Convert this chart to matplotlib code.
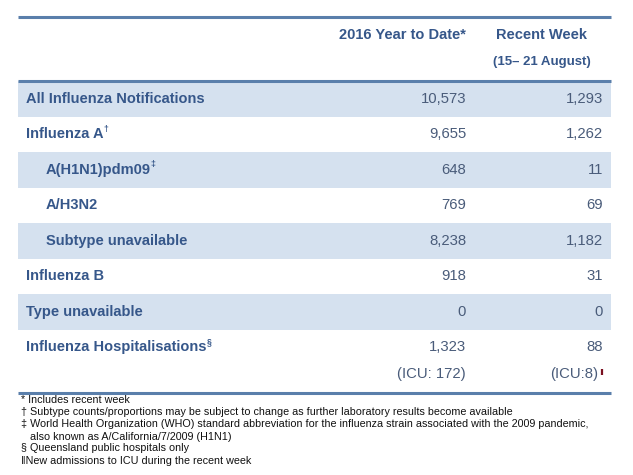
import matplotlib
matplotlib.use("Agg")
import matplotlib.pyplot as plt
from matplotlib.patches import Rectangle

plt.rcParams['font.family'] = ['Liberation Sans', 'DejaVu Sans']

# ---- data ----
col_headers = ["2016 Year to Date*", "Recent Week"]
col_subheader = "(15\u2013 21 August)"
row_labels = ["All Influenza Notifications", "Influenza A", "A(H1N1)pdm09", "A/H3N2",
              "Subtype unavailable", "Influenza B", "Type unavailable",
              "Influenza Hospitalisations"]
row_marks = ["", "\u2020", "\u2021", "", "", "", "", "\u00a7"]
row_indent = [False, False, True, True, True, False, False, False]
row_band = [True, False, True, False, True, False, True, False]
ytd_values = ["10,573", "9,655", "648", "769", "8,238", "918", "0", "1,323"]
recent_values = ["1,293", "1,262", "11", "69", "1,182", "31", "0", "88"]
icu_ytd = "(ICU: 172)"
icu_recent = "(ICU:8)"
footnotes = ["* Includes recent week",
             "\u2020 Subtype counts/proportions may be subject to change as further laboratory results become available",
             "\u2021 World Health Organization (WHO) standard abbreviation for the influenza strain associated with the 2009 pandemic,",
             "   also known as A/California/7/2009 (H1N1)",
             "\u00a7 Queensland public hospitals only",
             "\u2016New admissions to ICU during the recent week"]

W, H = 633, 475
fig = plt.figure(figsize=(W / 100, H / 100), dpi=100)
ax = fig.add_axes([0, 0, 1, 1])
ax.set_xlim(0, W)
ax.set_ylim(H, 0)
ax.axis('off')

label_c = '#36578a'
num_c = '#4a5c7a'
band_c = '#d5e1ef'
line_c = '#5a7fab'

x0, x1 = 18, 611
col1_r, col2_r = 466, 603
lab_x, ind_x = 25.5, 45.5
row_top0, row_h = 81, 35.5
fs = 10.5
fs_num = 10.7

# lines
for yl in (17, 81, 393):
    ax.plot([x0, x1], [yl, yl], color=line_c, lw=2.2, solid_capstyle='butt')

# headers
ax.text(col1_r, 35, col_headers[0], ha='right', va='center', fontsize=fs, fontweight='bold', color=label_c)
ax.text(541.7, 35, col_headers[1], ha='center', va='center', fontsize=fs, fontweight='bold', color=label_c)
ax.text(541.7, 62, col_subheader, ha='center', va='center', fontsize=9.5, fontweight='bold', color=label_c)

fig.canvas.draw()
renderer = fig.canvas.get_renderer()

for i, lab in enumerate(row_labels):
    top = row_top0 + i * row_h
    if row_band[i]:
        ax.add_patch(Rectangle((x0, top), x1 - x0, row_h, facecolor=band_c, edgecolor='none', zorder=0))
    yc = top + row_h / 2
    if i == len(row_labels) - 1:
        yc = 347
    t = ax.text(ind_x if row_indent[i] else lab_x, yc, lab, ha='left', va='center',
                fontsize=fs, fontweight='bold', color=label_c)
    if row_marks[i]:
        bb = t.get_window_extent(renderer).transformed(ax.transData.inverted())
        ax.text(bb.x1 + 0.3, yc - 5, row_marks[i], ha='left', va='center',
                fontsize=fs * 0.6, fontweight='bold', color=label_c)
    ax.text(col1_r, yc, ytd_values[i], ha='right', va='center', fontsize=fs_num, color=num_c)
    ax.text(col2_r, yc, recent_values[i], ha='right', va='center', fontsize=fs_num, color=num_c)

ax.text(col1_r, 374, icu_ytd, ha='right', va='center', fontsize=fs_num, color=num_c)
ax.text(598, 374, icu_recent, ha='right', va='center', fontsize=fs_num, color=num_c)
ax.plot([601.5, 601.5], [368.5, 374.5], color='#7a1020', lw=1.6, solid_capstyle='butt')

fy = [400, 411.7, 424, 437.3, 448.3, 460.7]
for y, s in zip(fy, footnotes):
    ax.text(21, y, s, ha='left', va='center', fontsize=7.75, color='#111111')

fig.savefig('out.png', dpi=100)
